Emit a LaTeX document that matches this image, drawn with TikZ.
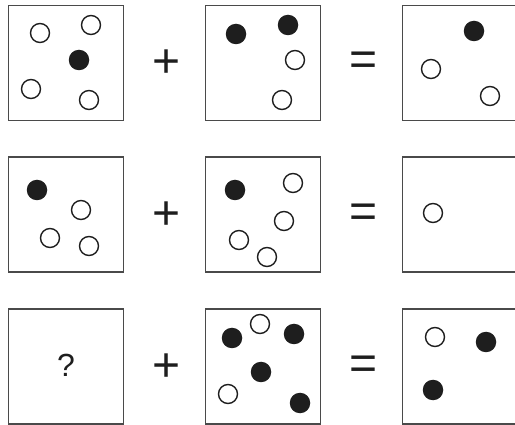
\documentclass[tikz,border=0pt]{standalone}
\usepackage{fontspec}
\setmainfont{Liberation Sans}
\usepackage{tikz}
\usetikzlibrary{positioning}
\definecolor{FrameGray}{HTML}{4A4A4A}
\definecolor{DotBlack}{HTML}{1E1E1E}
\tikzset{
  panel/.style={draw=FrameGray,line width=1.8pt,minimum size=115pt,inner sep=0pt},
  hollow/.style={circle,draw=DotBlack,line width=1.4pt,minimum size=19pt,inner sep=0pt},
  filled/.style={circle,fill=DotBlack,minimum size=20.5pt,inner sep=0pt},
  opsign/.style={font=\fontsize{48}{48}\selectfont,inner sep=0pt,text=DotBlack}
}
\begin{document}
\begin{tikzpicture}[x=1pt,y=-1pt]
\useasboundingbox (0,0) rectangle (515,425);
% panels
\foreach \r/\y in {1/63,2/214.5,3/366.5}{
  \node[panel] (p\r a) at (66,\y) {};
  \node[panel] (p\r b) at (263,\y) {};
  \node[panel] (p\r c) at (460,\y) {};
  \node[opsign] (plus\r) at (167,\y+1) {+};
  \node[opsign] (eq\r) at (364,\y+1) {=};
}
% row 1
\foreach \x/\y [count=\i] in {40/33,91/25,31/89,89/100}
  \node[hollow] (w1a\i) at (\x,\y) {};
\node[filled] (k1a1) at (79,60) {};
\foreach \x/\y [count=\i] in {236/34,288/25}
  \node[filled] (k1b\i) at (\x,\y) {};
\foreach \x/\y [count=\i] in {295/60,282/100}
  \node[hollow] (w1b\i) at (\x,\y) {};
\node[filled] (k1c1) at (474,31) {};
\foreach \x/\y [count=\i] in {431/69,490/96}
  \node[hollow] (w1c\i) at (\x,\y) {};
% row 2
\node[filled] (k2a1) at (37,190) {};
\foreach \x/\y [count=\i] in {81/210,50/238,89/246}
  \node[hollow] (w2a\i) at (\x,\y) {};
\node[filled] (k2b1) at (235,190) {};
\foreach \x/\y [count=\i] in {293/183,284/221,239/240,267/257}
  \node[hollow] (w2b\i) at (\x,\y) {};
\node[hollow] (w2c1) at (433,213) {};
% row 3
\node[font=\fontsize{32}{32}\selectfont,text=DotBlack] (ask) at (66,365) {?};
\foreach \x/\y [count=\i] in {232/338,294/334,261/372,300/403}
  \node[filled] (k3b\i) at (\x,\y) {};
\foreach \x/\y [count=\i] in {260/324,228/394}
  \node[hollow] (w3b\i) at (\x,\y) {};
\node[hollow] (w3c1) at (435,337) {};
\foreach \x/\y [count=\i] in {486/342,433/390}
  \node[filled] (k3c\i) at (\x,\y) {};
\end{tikzpicture}
\end{document}
